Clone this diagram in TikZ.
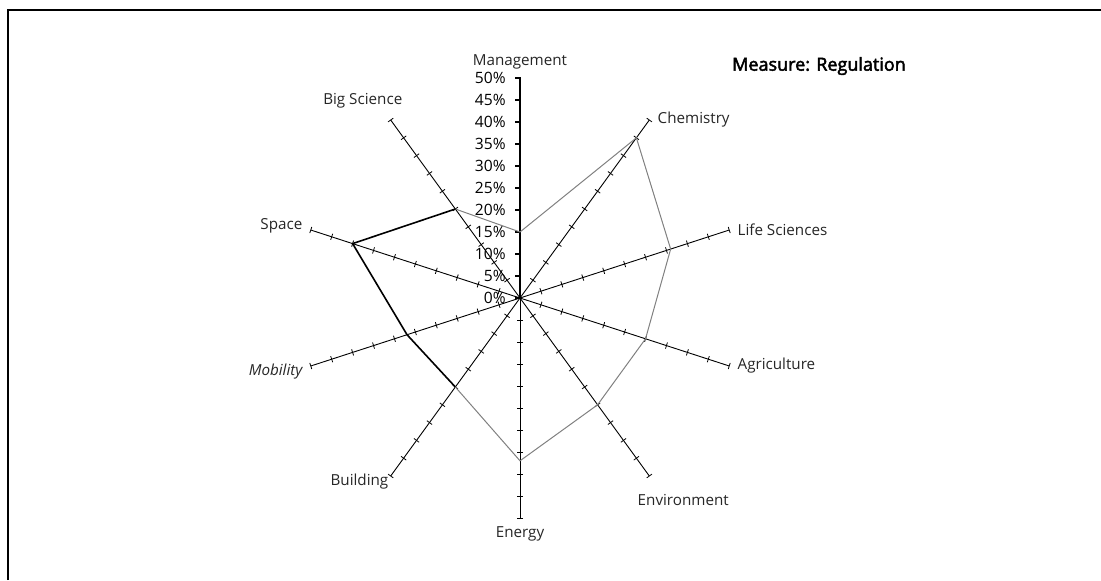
\documentclass[tikz,border=0pt]{standalone}
\usepackage{fontspec}
\setmainfont{Open Sans}
\newfontfamily\titlefont[FakeBold=2.5]{Open Sans}
\usetikzlibrary{positioning}

\begin{document}
\begin{tikzpicture}[x=1pt,y=1pt,inner sep=1pt,
    axis/.style={draw=black,line width=0.45pt},
    mgmtaxis/.style={draw=black,line width=1pt},
    tick/.style={draw=black,line width=0.4pt},
    poly/.style={draw=black!50,line width=0.5pt},
    polydark/.style={draw=black,line width=0.8pt},
    lbl/.style={font=\fontsize{7.6}{9}\selectfont,text=black!85},
    pct/.style={font=\fontsize{7.8}{9}\selectfont,anchor=east,inner sep=0pt},
    title/.style={font=\titlefont\fontsize{9}{10}\selectfont}]
    \useasboundingbox (-260,-141) rectangle (290.5,149);
    % frame
    \draw[line width=0.7pt] (-256,-141) -- (-256,144) -- (290.5,144);
    % axes, 50% = 110pt
    \coordinate (o) at (0,0);
    \foreach \a/\n in {126/bs,162/sp,198/mo,234/bu,270/en,306/ev,342/ag,18/ls,54/ch}{
        \coordinate (\n) at (\a:110);
        \draw[axis] (o) -- (\n);
        \foreach \r in {11,22,...,110}
            \draw[tick] (\a:\r) ++({\a+90}:1.6) -- ++({\a-90}:3.2);
    }
    \coordinate (mg) at (90:110);
    \draw[mgmtaxis] (o) -- (mg);
    \foreach \p in {0,5,...,50}{
        \draw[tick,line width=0.7pt] (-2.5,{\p*2.2}) -- (0.5,{\p*2.2});
        \node[pct] (p\p) at (-7,{\p*2.2}) {\p\%};
    }
    % measure values
    \coordinate (vmg) at (90:33);
    \coordinate (vbs) at (126:55);
    \coordinate (vsp) at (162:88);
    \coordinate (vmo) at (198:59.4);
    \coordinate (vbu) at (234:55);
    \coordinate (ven) at (270:81.4);
    \coordinate (vev) at (306:66);
    \coordinate (vag) at (342:66);
    \coordinate (vls) at (18:79.2);
    \coordinate (vch) at (54:99);
    \draw[poly] (vmg) -- (vbs);
    \draw[polydark] (vbs) -- (vsp) -- (vmo) -- (vbu);
    \draw[poly] (vbu) -- (ven) -- (vev) -- (vag) -- (vls) -- (vch) -- (vmg);
    % labels
    \node[lbl,above=3pt of mg] (lmg) {Management};
    \node[lbl,above left=4.5pt and -7pt of bs] (lbs) {Big Science};
    \node[lbl,right=3pt of ch] (lch) {Chemistry};
    \node[lbl,left=3pt of sp,yshift=2pt] (lsp) {Space};
    \node[lbl,right=3pt of ls] (lls) {Life Sciences};
    \node[lbl,left=3pt of mo,yshift=-3pt] (lmo) {\itshape Mobility};
    \node[lbl,right=3pt of ag] (lag) {Agriculture};
    \node[lbl,below left=-2pt and 0pt of bu] (lbu) {Building};
    \node[lbl,below=3pt of en] (len) {Energy};
    \node[lbl,below right=8pt and -7pt of ev] (lev) {Environment};
    \node[title] (ttl) at (149.5,116) {Measure: Regulation};
\end{tikzpicture}
\end{document}
